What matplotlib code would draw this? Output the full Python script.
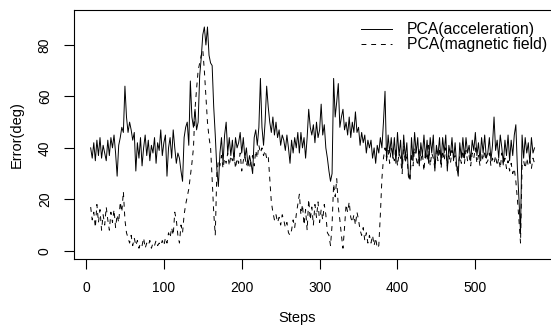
import matplotlib
matplotlib.use('Agg')
import matplotlib.pyplot as plt
import numpy as np

plt.rcParams['font.family'] = ['Liberation Sans', 'DejaVu Sans']

# steps sampled every 2
steps = np.arange(6, 577, 2)

# PCA(acceleration) error, deg
acc = [40, 36, 42, 35, 43, 37, 44, 36, 41, 38, 35, 43, 37, 44, 40,
       45, 38, 29, 41, 44, 48, 46, 64, 52, 46, 50, 47, 43, 46, 31,
       42, 36, 44, 33, 40, 45, 37, 43, 35, 41, 38, 44, 34, 42, 39,
       47, 37, 42, 45, 29, 40, 44, 36, 47, 40, 34, 38, 36, 31, 27,
       44, 48, 50, 41, 66, 52, 48, 55, 47, 50, 68, 75, 84, 87, 80,
       87, 76, 73, 72, 56, 45, 32, 25, 38, 44, 34, 45, 50, 38, 44,
       37, 43, 35, 44, 40, 42, 46, 38, 44, 36, 40, 33, 37, 34, 30,
       44, 47, 41, 48, 67, 48, 41, 50, 64, 56, 50, 46, 52, 45, 50,
       44, 47, 41, 45, 43, 39, 45, 40, 34, 43, 38, 44, 40, 46, 38,
       46, 40, 44, 36, 44, 55, 48, 45, 49, 42, 50, 44, 47, 57, 45,
       49, 40, 36, 31, 27, 30, 67, 52, 58, 65, 48, 52, 55, 47, 50,
       45, 52, 44, 50, 46, 54, 46, 48, 41, 46, 42, 45, 38, 43, 40,
       43, 36, 40, 34, 41, 38, 44, 40, 50, 62, 35, 45, 38, 44, 36,
       44, 34, 46, 37, 43, 32, 45, 36, 42, 30, 28, 44, 35, 46, 38,
       44, 33, 42, 37, 45, 36, 43, 34, 44, 38, 45, 31, 41, 37, 44,
       34, 44, 38, 45, 31, 41, 37, 44, 35, 42, 33, 29, 42, 36, 44,
       36, 44, 38, 41, 35, 43, 39, 46, 37, 42, 35, 44, 38, 45, 36,
       38, 44, 35, 41, 52, 39, 43, 36, 45, 40, 34, 43, 37, 45, 35,
       43, 37, 45, 49, 32, 20, 7, 45, 36, 44, 38, 42, 34, 44, 38,
       40]

# PCA(magnetic field) error, deg
mag = [17, 12, 15, 9, 18, 11, 16, 8, 14, 10, 17, 12, 8, 15, 11,
       16, 9, 14, 11, 19, 15, 23, 12, 7, 5, 3, 6, 2, 5, 2,
       4, 1, 3, 2, 5, 1, 3, 2, 4, 1, 3, 2, 4, 2, 3,
       2, 4, 2, 5, 3, 7, 5, 9, 6, 15, 12, 6, 3, 10, 7,
       14, 18, 21, 24, 29, 34, 40, 55, 63, 70, 73, 76, 78, 70, 60,
       50, 44, 40, 28, 15, 6, 30, 35, 33, 37, 32, 36, 34, 38, 33,
       37, 35, 38, 32, 36, 34, 38, 31, 35, 37, 33, 36, 32, 35, 37,
       33, 39, 36, 41, 38, 40, 37, 39, 36, 37, 28, 19, 15, 12, 14,
       11, 13, 10, 14, 12, 9, 11, 7, 6, 8, 12, 9, 14, 18, 22,
       14, 18, 10, 16, 8, 20, 12, 17, 10, 18, 13, 19, 11, 16, 12,
       18, 14, 7, 6, 2, 10, 26, 21, 28, 17, 12, 6, 1, 9, 18,
       15, 19, 13, 11, 14, 10, 15, 12, 8, 6, 9, 4, 7, 3, 6,
       3, 6, 2, 5, 1, 2, 14, 28, 36, 40, 36, 39, 34, 40, 37,
       35, 40, 33, 38, 36, 30, 41, 34, 38, 29, 27, 38, 33, 40, 36,
       33, 40, 35, 38, 31, 39, 35, 41, 33, 38, 36, 32, 39, 35, 40,
       32, 39, 35, 40, 33, 37, 34, 39, 36, 37, 31, 33, 37, 34, 39,
       34, 39, 35, 37, 33, 38, 36, 40, 34, 37, 33, 38, 35, 39, 34,
       35, 38, 33, 36, 34, 37, 33, 36, 32, 38, 33, 36, 32, 35, 31,
       34, 30, 32, 27, 20, 12, 3, 33, 35, 32, 36, 33, 35, 32, 36,
       34]

xticks = [0, 100, 200, 300, 400, 500]
yticks = [0, 20, 40, 60, 80]

fig = plt.figure(figsize=(5.51, 3.27), dpi=100)
ax = fig.add_axes([74/551, 68/327, 480/551, 249/327])

ax.plot(steps, acc, color='black', lw=0.7, label='PCA(acceleration)')
ax.plot(steps, mag, color='black', lw=0.7, ls=(0, (5, 5)), label='PCA(magnetic field)')

ax.set_xlim(-15.4, 601)
ax.set_ylim(-3.2, 93.6)
ax.set_xticks(xticks)
ax.set_yticks(yticks)
ax.tick_params(axis='both', direction='out', length=7, width=0.8, labelsize=10)
ax.tick_params(axis='x', pad=9)
ax.tick_params(axis='y', pad=9)
for lab in ax.get_yticklabels():
    lab.set_rotation(90)
    lab.set_va('center')
for s in ax.spines.values():
    s.set_linewidth(0.8)

ax.set_xlabel('Steps', fontsize=10.5)
ax.xaxis.set_label_coords((297-74)/480, (259-318)/249)
ax.xaxis.label.set_va('center')
ax.set_ylabel('Error(deg)', fontsize=10.5)
ax.yaxis.set_label_coords((17-74)/480, 0.5)
ax.yaxis.label.set_va('center')

ax.legend(loc='upper left', bbox_to_anchor=(361/551, 1-22/327), bbox_transform=fig.transFigure,
          frameon=False, fontsize=11.3, handlelength=2.0, handletextpad=0.9,
          labelspacing=0.0, borderpad=0, borderaxespad=0)

fig.savefig('out.png', dpi=100)
